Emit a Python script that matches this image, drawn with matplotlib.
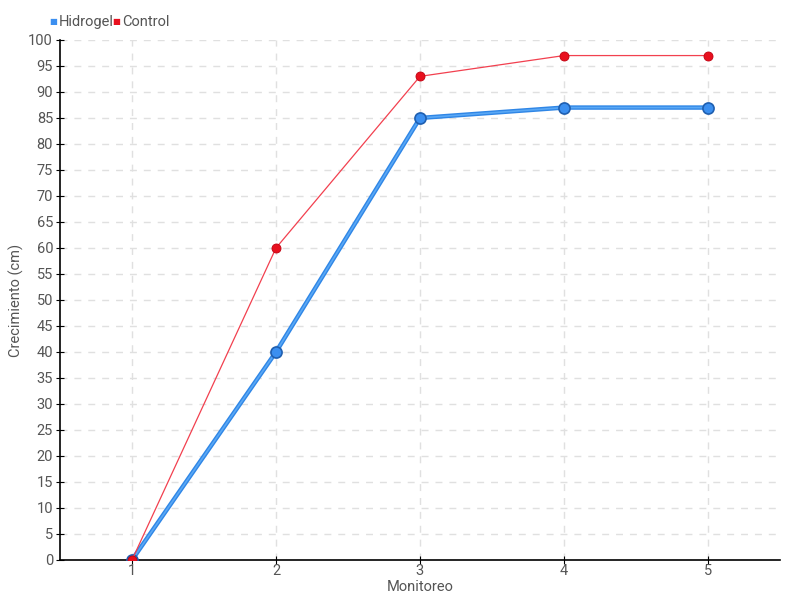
import numpy as np
import matplotlib.pyplot as plt

plt.rcParams['font.family'] = ['Roboto', 'DejaVu Sans']

monitoreo = [1, 2, 3, 4, 5]
hidrogel = [0, 40, 85, 87, 87]
control = [0, 60, 93, 97, 97]

fig = plt.figure(figsize=(8, 6), dpi=100)
ax = fig.add_axes([0.075, 0.0667, 0.9, 0.8667])

txt = '#555555'

# hidrogel: thick blue line with a lighter inner stripe
ax.plot(monitoreo, hidrogel, color='#2f86e6', lw=3.2, zorder=3)
ax.plot(monitoreo, hidrogel, color='#5aa8f5', lw=1.2, zorder=3)
ax.plot(monitoreo, hidrogel, ls='none', marker='o', ms=8, mfc='#3b8ff0',
        mec='#1f5fb0', mew=1.2, zorder=4)

# control: thin red line
ax.plot(monitoreo, control, color='#f2404f', lw=0.9, zorder=5)
ax.plot(monitoreo, control, ls='none', marker='o', ms=6.5, mfc='#e8101e',
        mec='#c00010', mew=0.6, zorder=6)

ax.set_xlim(0.5, 5.5)
ax.set_ylim(0, 100)
ax.set_xticks(monitoreo)
ax.set_yticks(np.arange(0, 101, 5))
ax.grid(True, ls=(0, (5, 5)), color='#e0e0e0', lw=1)
ax.set_axisbelow(True)

for s in ['top', 'right']:
    ax.spines[s].set_visible(False)
for s in ['left', 'bottom']:
    ax.spines[s].set_color('black')
    ax.spines[s].set_linewidth(1.2)

ax.tick_params(axis='both', direction='inout', length=6, colors='black',
               labelcolor=txt, labelsize=10.5)
ax.tick_params(axis='x', pad=0)
ax.tick_params(axis='y', pad=2)

ax.set_xlabel('Monitoreo', color=txt, fontsize=10.5, labelpad=1)
ax.set_ylabel('Crecimiento (cm)', color=txt, fontsize=10.5)
ax.yaxis.set_label_coords(-0.05, 0.5)

# legend
fig.text(0.0615, 0.963, '\u25a0', color='#3b8ff0', fontsize=6, va='center')
fig.text(0.073, 0.963, 'Hidrogel', color=txt, fontsize=10.5, va='center')
fig.text(0.1405, 0.963, '\u25a0', color='#e8101e', fontsize=6, va='center')
fig.text(0.153, 0.963, 'Control', color=txt, fontsize=10.5, va='center')

fig.savefig('out.png', dpi=100)
